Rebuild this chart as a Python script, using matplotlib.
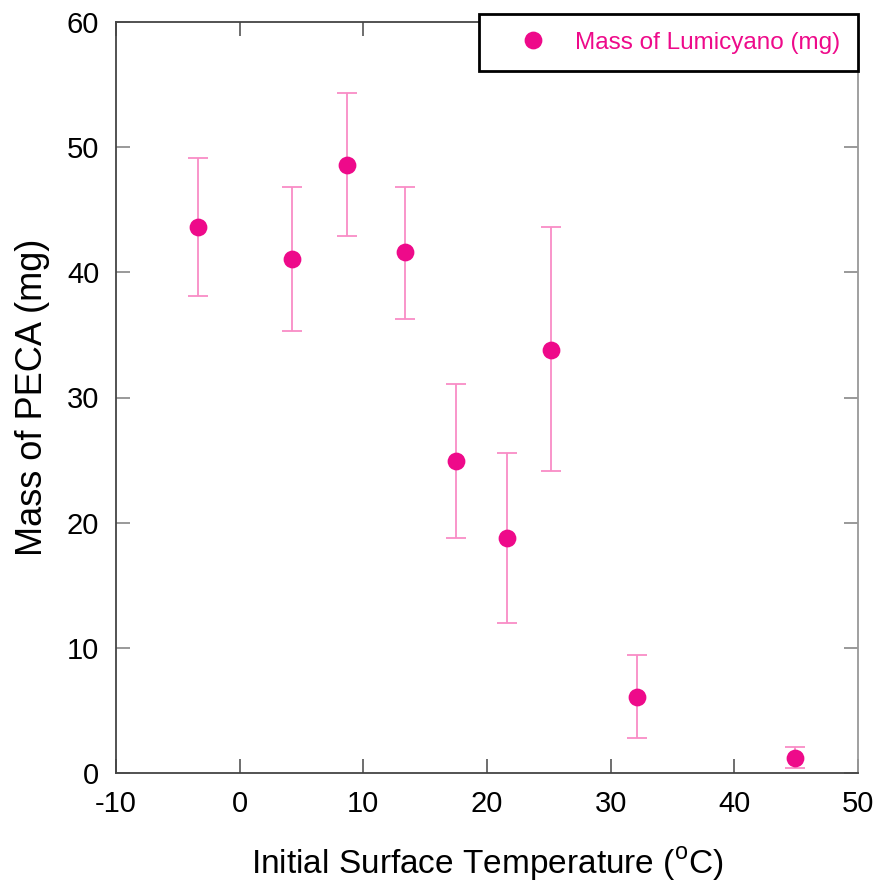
import matplotlib
matplotlib.use("Agg")
import matplotlib.pyplot as plt

plt.rcParams['font.family'] = ['Liberation Sans', 'DejaVu Sans']
plt.rcParams['mathtext.fontset'] = 'custom'
plt.rcParams['mathtext.rm'] = 'Liberation Sans'
plt.rcParams['axes.unicode_minus'] = False

temperature = [-3.4, 4.2, 8.7, 13.4, 17.5, 21.6, 25.2, 32.1, 44.9]
mass = [43.6, 41.1, 48.6, 41.6, 24.9, 18.8, 33.8, 6.1, 1.2]
err_upper = [49.1, 46.8, 54.3, 46.8, 31.1, 25.6, 43.6, 9.4, 2.1]
err_lower = [38.1, 35.3, 42.9, 36.3, 18.8, 12.0, 24.1, 2.8, 0.4]

x_ticks = [-10, 0, 10, 20, 30, 40, 50]
y_ticks = [0, 10, 20, 30, 40, 50, 60]

yerr = [[m - lo for m, lo in zip(mass, err_lower)],
        [hi - m for m, hi in zip(mass, err_upper)]]

fig = plt.figure(figsize=(8.78, 8.86), dpi=100)
ax = fig.add_axes([116/878, 113/886, 742/878, 751/886])

ax.errorbar(temperature, mass, yerr=yerr, fmt='none', ecolor='#f98cc6',
            elinewidth=1.3, capsize=7.5, capthick=1.3, zorder=2)
ax.plot(temperature, mass, 'o', color='#ee0a8a', markersize=12.8,
        markeredgewidth=0, label='Mass of Lumicyano (mg)', zorder=3)

ax.set_xlim(-10, 50)
ax.set_ylim(0, 60)
ax.set_xticks(x_ticks)
ax.set_yticks(y_ticks)
ax.tick_params(direction='in', length=10, width=1.2, labelsize=21,
               top=True, right=True, colors='#555555', labelcolor='black', pad=12)
ax.tick_params(axis='y', colors='#888888', labelcolor='black')
for name, s in ax.spines.items():
    s.set_color('#444444')
    s.set_linewidth(1.3)
ax.spines['right'].set_color('#999999')

ax.set_xlabel(r'Initial Surface Temperature ($^{\mathrm{o}}$C)', fontsize=24, labelpad=20)
ax.set_ylabel('Mass of PECA (mg)', fontsize=26, labelpad=12)

leg = ax.legend(loc='upper right', bbox_to_anchor=(858/878, 1 - 14/886),
                bbox_transform=fig.transFigure,
                fontsize=17.5, frameon=True, fancybox=False,
                borderpad=0.72, handletextpad=0.25, borderaxespad=0.0,
                labelcolor='#ee0a8a', handlelength=3.0)
leg.get_frame().set_edgecolor('black')
leg.get_frame().set_linewidth(2.0)
leg.get_frame().set_alpha(1)

fig.savefig('out.png', dpi=100)
